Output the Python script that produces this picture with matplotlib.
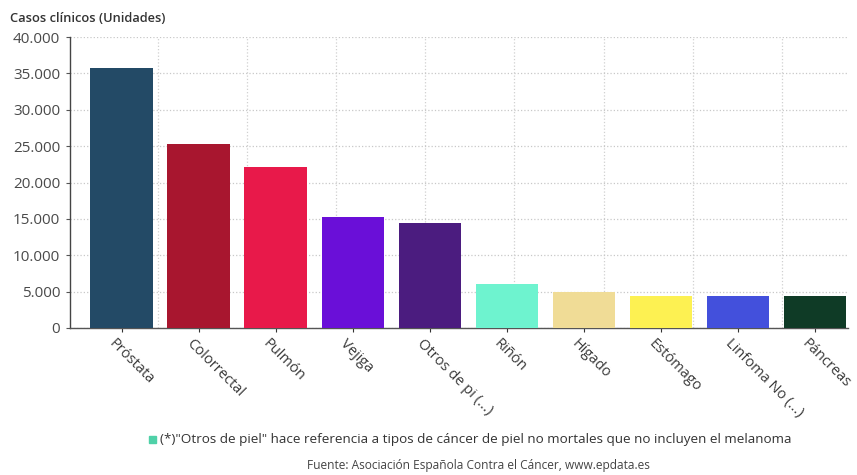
import numpy as np
import matplotlib
matplotlib.use("Agg")
from matplotlib import pyplot as plt
from matplotlib import transforms
from matplotlib.ticker import FuncFormatter
from matplotlib.patches import Rectangle

plt.rcParams['font.family'] = ['Open Sans', 'DejaVu Sans']

# Casos clinicos por tipo de cancer
categories = ["Próstata", "Colorrectal", "Pulmón", "Vejiga", "Otros de pi (...)",
              "Riñón", "Hígado", "Estómago", "Linfoma No (...)", "Páncreas"]
values = [35800, 25300, 22200, 15300, 14500, 6100, 5000, 4400, 4400, 4350]
colors = ["#234a66", "#a8162f", "#e8194a", "#6a0fd8", "#4b1c7f",
          "#6ef3cf", "#f0dc96", "#fdf152", "#4350dc", "#0f3b26"]
yticks = [0, 5000, 10000, 15000, 20000, 25000, 30000, 35000, 40000]

fig = plt.figure(figsize=(8.57, 4.75), dpi=100)
ax = fig.add_axes([0.0817, 0.3095, 0.9078, 0.6125])

x = np.arange(len(categories))
ax.bar(x, values, width=0.81, color=colors, zorder=3)

ax.set_xlim(-0.67, 9.43)
ax.set_ylim(0, 40000)
ax.set_yticks(yticks)
ax.yaxis.set_major_formatter(FuncFormatter(lambda v, p: f"{int(v):,}".replace(",", ".")))
ax.set_xticks(x)
ax.set_xticklabels(categories, rotation=-45, ha="left", va="top",
                   rotation_mode="anchor", fontsize=10.5, color="#3a3a3a")
ax.tick_params(axis="y", labelsize=11, labelcolor="#4a4a4a", length=3, color="#555555", pad=4)
ax.tick_params(axis="x", length=3, color="#333333", pad=3)
shift = transforms.ScaledTranslation(-5 / 100, 0, fig.dpi_scale_trans)
for lab in ax.get_xticklabels():
    lab.set_transform(lab.get_transform() + shift)

# grid
ax.grid(axis="y", linestyle=":", color="#c8c8c8", linewidth=0.9, zorder=0)
for gx in np.arange(0.476, 9.43, 1.156):
    ax.axvline(gx, linestyle=":", color="#d0d0d0", linewidth=0.9, zorder=0)

for s in ["top", "right"]:
    ax.spines[s].set_visible(False)
ax.spines["left"].set_color("#444444")
ax.spines["bottom"].set_color("#555555")
ax.spines["left"].set_linewidth(1.0)
ax.spines["bottom"].set_linewidth(1.0)

fig.text(0.012, 0.962, "Casos clínicos (Unidades)", fontsize=9.3, fontweight="semibold",
         color="#333333", ha="left", va="center")

fig.patches.append(Rectangle((149 / 857, 1 - 443 / 475), 7 / 857, 7 / 475,
                             transform=fig.transFigure, color="#4fd1a8", figure=fig))
fig.text(160 / 857, 1 - 439 / 475,
         "(*)\"Otros de piel\" hace referencia a tipos de cáncer de piel no mortales que no incluyen el melanoma",
         fontsize=9.7, color="#333333", ha="left", va="center")
fig.text(478 / 857, 1 - 466 / 475, "Fuente: Asociación Española Contra el Cáncer, www.epdata.es",
         fontsize=8.6, color="#444444", ha="center", va="center")

fig.savefig("out.png", dpi=100)
